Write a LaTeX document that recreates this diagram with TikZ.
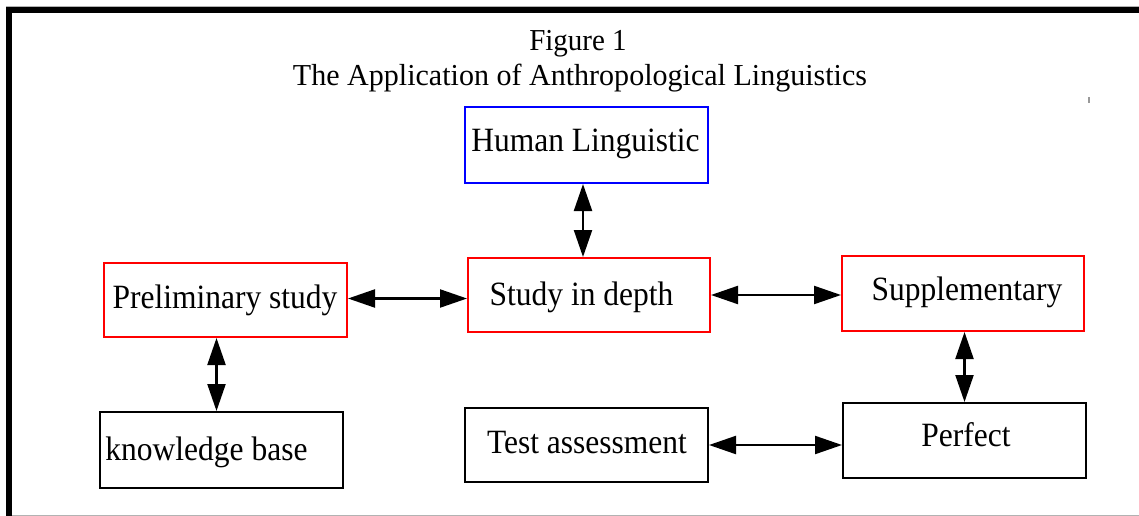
\documentclass[tikz,border=0pt]{standalone}
\usepackage{fontspec}
\usepackage{graphicx}
\setmainfont{Liberation Serif}
\usetikzlibrary{arrows.meta}
\begin{document}
\begin{tikzpicture}[x=1pt,y=-1pt,
  box/.style={draw, line width=2pt, rectangle, inner sep=0pt},
  redbox/.style={box, draw=red},
  bluebox/.style={box, draw=blue},
  blackbox/.style={box, draw=black},
  txt/.style={inner sep=0pt, anchor=base, font=\fontsize{31.5}{36}\selectfont},
  ttl/.style={inner sep=0pt, anchor=base, font=\fontsize{29}{34}\selectfont},
  dbl/.style={line width=2.2pt, {Triangle[length=27pt,width=18pt]}-{Triangle[length=27pt,width=18pt]}},
  frame/.style={line width=6pt, draw=black},
  thin/.style={line width=1pt, draw=black!30}
]
\useasboundingbox (0,0) rectangle (1139,516);
\fill[white] (0,0) rectangle (1139,516);
% frame
\coordinate (ftl) at (9,10.5);
\coordinate (ftr) at (1139,10.5);
\coordinate (fbl) at (9,516);
\draw[thin] (6,7) -- (1139,7);
\draw[thin] (12,515) -- (1139,515);
\draw[frame] (fbl) -- (ftl) -- (ftr);
\fill[black!40] (1088,97) rectangle (1090,103);
% title
\node[ttl] (t1) at (578,51) {\scalebox{1}[1.05]{Figure 1}};
\node[ttl] (t2) at (580,86) {\scalebox{1.036}[1.05]{The Application of Anthropological Linguistics}};
% boxes
\node[bluebox, minimum width=243pt, minimum height=76pt] (hl) at (586.5,145) {};
\node[redbox, minimum width=243pt, minimum height=74pt] (ps) at (225.5,300) {};
\node[redbox, minimum width=242pt, minimum height=74pt] (sd) at (589,295) {};
\node[redbox, minimum width=242pt, minimum height=75pt] (su) at (963,293.5) {};
\node[blackbox, minimum width=243pt, minimum height=76pt] (kb) at (221.5,450) {};
\node[blackbox, minimum width=243pt, minimum height=74pt] (ta) at (586.5,445) {};
\node[blackbox, minimum width=243pt, minimum height=75pt] (pf) at (964.5,440.5) {};
% texts
\node[txt] (hlt) at (585.5,151) {\scalebox{1}[1.08]{Human Linguistic}};
\node[txt] (pst) at (225,308) {\scalebox{1}[1.08]{Preliminary study}};
\node[txt] (sdt) at (581.5,305) {\scalebox{1}[1.08]{Study in depth}};
\node[txt] (sut) at (967,300) {\scalebox{1}[1.08]{Supplementary}};
\node[txt] (kbt) at (206.5,460) {\scalebox{1}[1.08]{knowledge base}};
\node[txt] (tat) at (587,453) {\scalebox{1}[1.08]{Test assessment}};
\node[txt] (pft) at (966,446) {\scalebox{1}[1.08]{Perfect}};
% connectors
\draw[dbl] ([xshift=-3.5pt]hl.south) -- ([xshift=-3.5pt]hl.south |- sd.north);
\draw[dbl] ([yshift=1.5pt]ps.east) -- ([yshift=1.5pt]ps.east -| sd.west);
\draw[dbl] (sd.east) -- (sd.east -| su.west);
\draw[dbl] ([xshift=-9pt]ps.south) -- ([xshift=-9pt]ps.south |- kb.north);
\draw[dbl] (pf.north) -- (pf.north |- su.south);
\draw[dbl] (ta.east) -- (ta.east -| pf.west);
\end{tikzpicture}
\end{document}
